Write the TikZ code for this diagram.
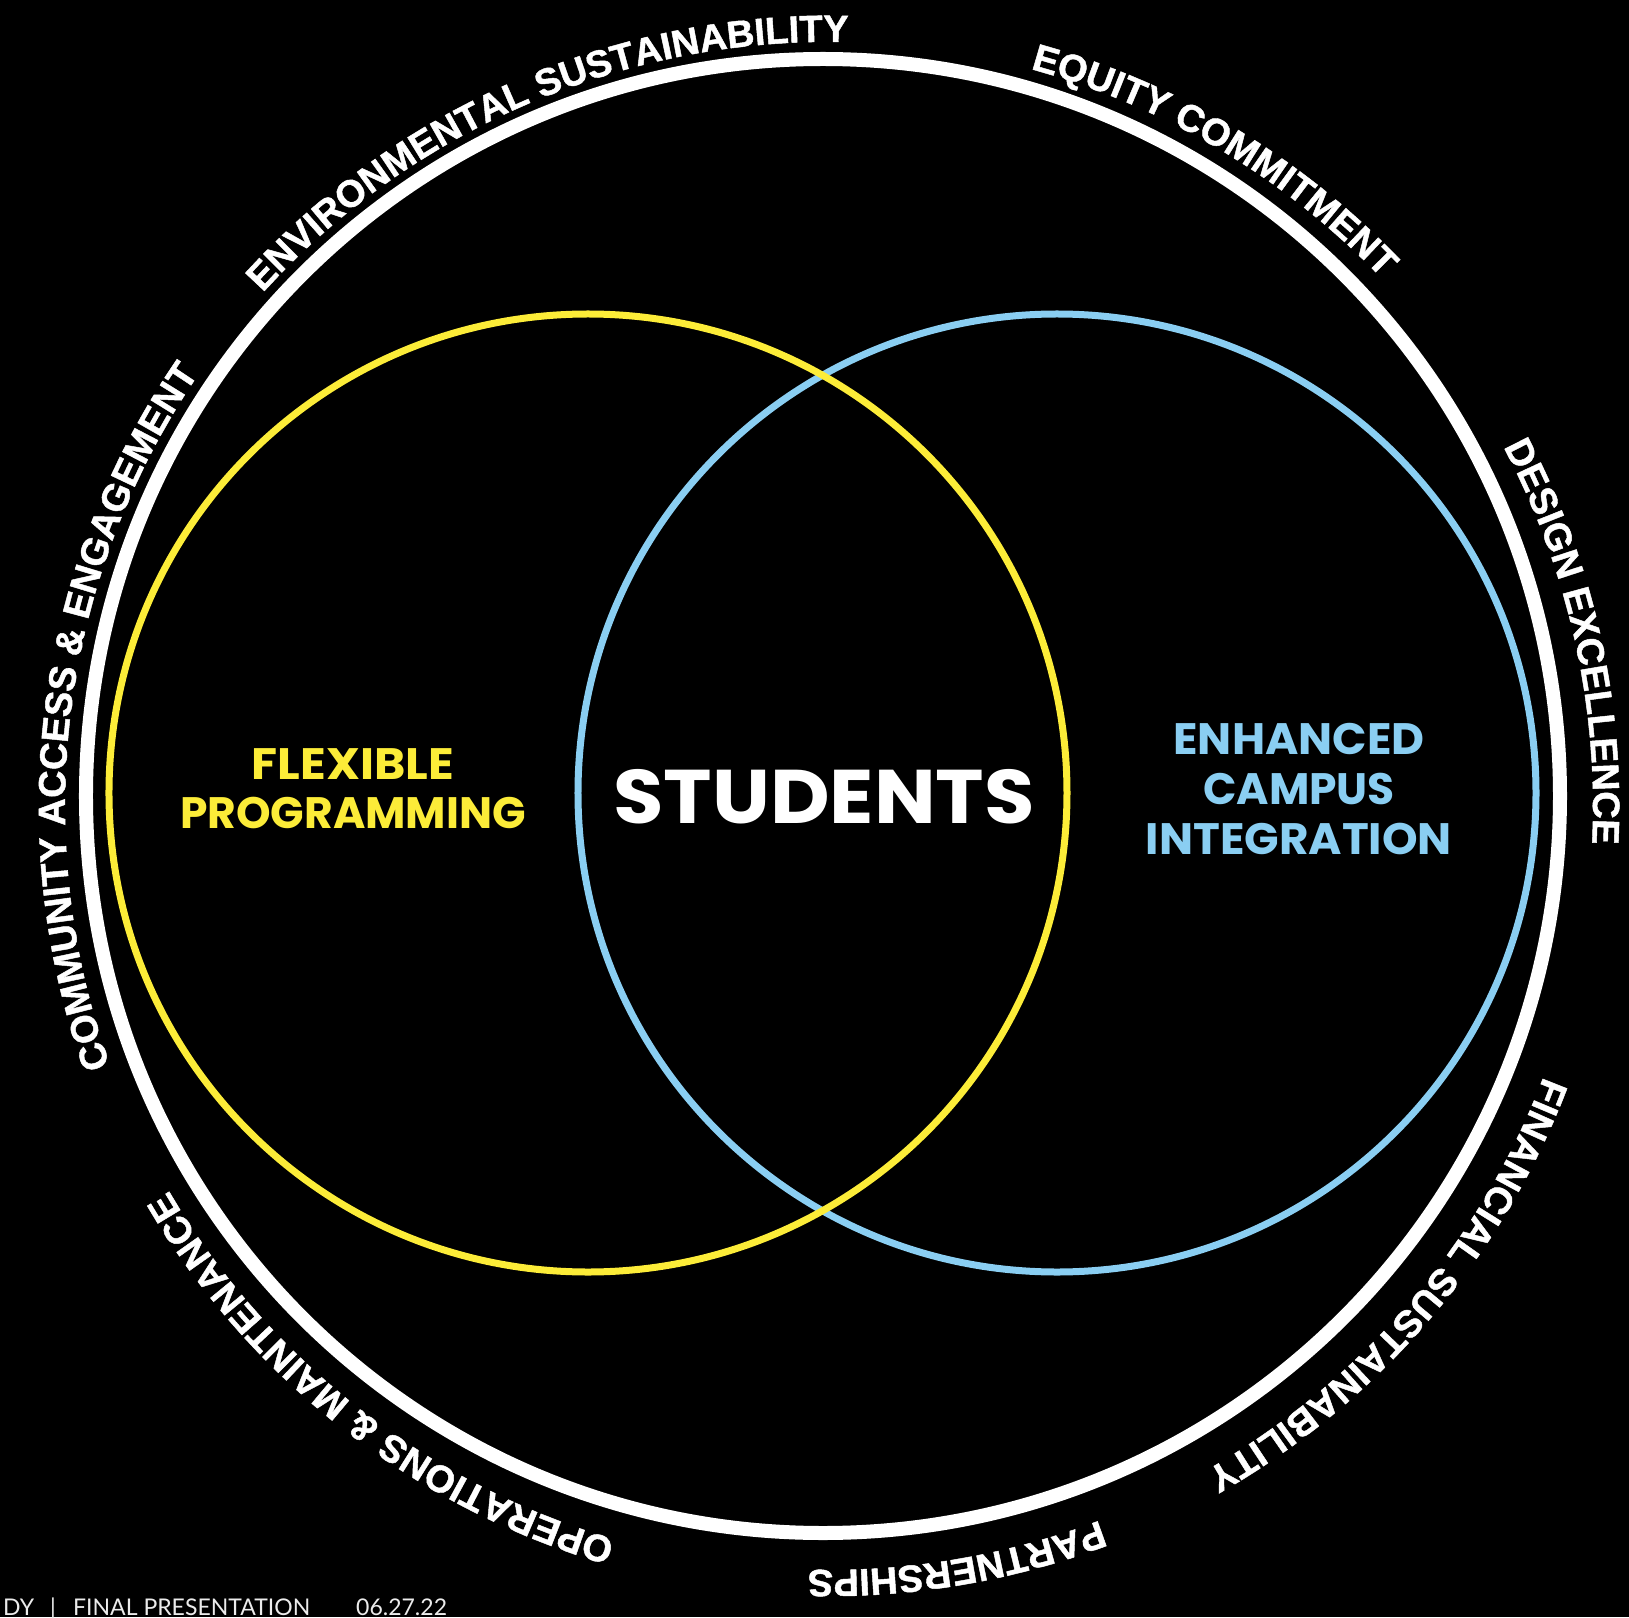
\documentclass[tikz,border=0pt]{standalone}
\usepackage{fontspec}
\usetikzlibrary{decorations.text}
\setmainfont{Liberation Sans}
\newfontfamily\ringfont{Liberation Sans}[BoldFeatures={FakeBold=1.2}]
\newfontfamily\gfont{Poppins}
\newfontfamily\footfont{Lato}
\definecolor{venyellow}{RGB}{252,236,56}
\definecolor{venblue}{RGB}{138,206,242}
\newcommand\ringtext[2]{%
  \path[shift={(6,-10)},decorate,decoration={text along path,text align=center,
    text={|\ringfont\bfseries\fontsize{38}{38}\selectfont\color{white}|#2}}]
    (#1+45:764pt) arc[start angle=#1+45,end angle=#1-45,radius=764pt];}
\begin{document}
\begin{tikzpicture}[x=1pt,y=1pt,
  ring/.style={draw=white,line width=14pt},
  yelcirc/.style={draw=venyellow,line width=7pt},
  bluecirc/.style={draw=venblue,line width=7pt},
  innerlabel/.style={font=\gfont\bfseries\fontsize{44}{44}\selectfont,anchor=base,inner sep=0pt},
  biglabel/.style={font=\gfont\bfseries\fontsize{76}{76}\selectfont,anchor=base,inner sep=0pt,text=white},
  footlabel/.style={font=\footfont\fontsize{23}{23}\selectfont,text=white!92!black,anchor=base west,inner sep=0pt}]
\fill[black] (-823,-821) rectangle (806,796);
\useasboundingbox (-823,-821) rectangle (806,796);
% circles
\draw[ring] (0,0) circle[radius=737pt];
\draw[bluecirc] (234,3) circle[radius=479pt];
\draw[yelcirc] (-235,3) circle[radius=479pt];
% ring labels
\ringtext{113.2}{ENVIRONMENTAL SUSTAINABILITY}
\ringtext{59.2}{EQUITY COMMITMENT}
\ringtext{12.6}{DESIGN EXCELLENCE}
\ringtext{-40.6}{FINANCIAL SUSTAINABILITY}
\ringtext{-80.4}{PARTNERSHIPS}
\ringtext{-128}{OPERATIONS {\&} MAINTENANCE}
\ringtext{172.7}{COMMUNITY ACCESS {\&} ENGAGEMENT}
% inner labels
\node[innerlabel,text=venyellow] (flex1) at (-470,17) {\scalebox{1.08}[1]{FLEXIBLE}};
\node[innerlabel,text=venyellow] (flex2) at (-470,-32) {PROGRAMMING};
\node[innerlabel,text=venblue] (enh1) at (476,42) {\scalebox{1.03}[1]{ENHANCED}};
\node[innerlabel,text=venblue] (enh2) at (476,-8) {CAMPUS};
\node[innerlabel,text=venblue] (enh3) at (476,-58) {\scalebox{1.03}[1]{INTEGRATION}};
\node[biglabel] (students) at (1,-27) {\scalebox{1.08}[1]{STUDENTS}};
% footer
\node[footlabel] (f1) at (-820,-819) {DY};
\node[footlabel] (f2) at (-773,-819) {|};
\node[footlabel] (f3) at (-750,-819) {FINAL PRESENTATION};
\node[footlabel] (f4) at (-467,-819) {06.27.22};
\end{tikzpicture}
\end{document}
